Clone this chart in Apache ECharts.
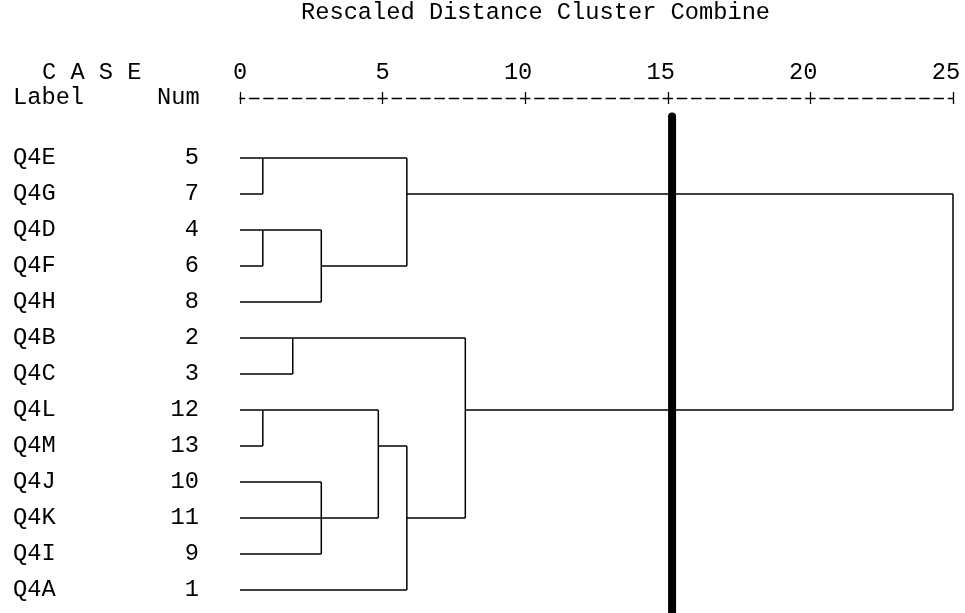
<!DOCTYPE html>
<html>
<head>
<meta charset="utf-8">
<script src="https://cdn.jsdelivr.net/npm/echarts@6/dist/echarts.min.js"></script>
<style>
html,body{margin:0;padding:0;background:#fff;}
#chart{width:965px;height:613px;}
</style>
</head>
<body>
<div id="chart"></div>
<script>
// ---- data ----
const leafLabels = ['Q4E','Q4G','Q4D','Q4F','Q4H','Q4B','Q4C','Q4L','Q4M','Q4J','Q4K','Q4I','Q4A'];
const leafNums = [5, 7, 4, 6, 8, 2, 3, 12, 13, 10, 11, 9, 1];
// merges: node ids (0-12 leaves, 13+ = clusters formed by earlier merges, in order)
const mergeChildren = [[0,1],[2,3],[14,4],[13,15],[5,6],[7,8],[9,10,11],[18,19],[20,12],[17,21],[16,22]];
const mergeDistance = [0.8, 0.8, 2.85, 5.85, 1.85, 0.8, 2.85, 4.85, 5.85, 7.9, 25];
const tickValues = [0, 5, 10, 15, 20, 25];
const cutDistance = 15.15;

// ---- build dendrogram segments from the merge table ----
const nodeRow = leafLabels.map((_, i) => i);
const nodeDist = leafLabels.map(() => 0);
const segments = [];
mergeChildren.forEach((kids, k) => {
  const d = mergeDistance[k];
  const rows = kids.map(c => nodeRow[c]);
  const lo = Math.min(...rows), hi = Math.max(...rows);
  kids.forEach(c => segments.push([nodeDist[c], nodeRow[c], d, nodeRow[c]]));
  segments.push([d, lo, d, hi]);
  nodeRow.push(Math.floor((lo + hi) / 2));
  nodeDist.push(d);
});

const FONT = '"Courier New", "Liberation Mono", monospace';
const FS = 23.7;

const chart = echarts.init(document.getElementById('chart'));
const segRender = (w, cap) => (params, api) => {
  const p1 = api.coord([api.value(0), api.value(1)]);
  const p2 = api.coord([api.value(2), api.value(3)]);
  return {
    type: 'line',
    shape: {x1: p1[0], y1: p1[1], x2: p2[0], y2: p2[1]},
    style: {stroke: '#000', lineWidth: w, lineCap: cap}
  };
};

const xBase = {
  type: 'value', position: 'top', offset: 60, min: 0, max: 25, interval: 5,
  splitLine: {show: false}
};

chart.setOption({
  animation: false,
  backgroundColor: '#fff',
  title: {
    text: 'Rescaled Distance Cluster Combine',
    left: 301, top: 1, padding: 0,
    textStyle: {fontFamily: FONT, fontSize: FS, fontWeight: 'normal', color: '#000'}
  },
  graphic: [
    {type: 'text', x: 42, y: 73, style: {text: 'C A S E', font: FS + 'px ' + FONT, fill: '#000', verticalAlign: 'middle'}},
    {type: 'text', x: 13, y: 98, style: {text: 'Label', font: FS + 'px ' + FONT, fill: '#000', verticalAlign: 'middle'}},
    {type: 'text', x: 157, y: 98, style: {text: 'Num', font: FS + 'px ' + FONT, fill: '#000', verticalAlign: 'middle'}}
  ],
  grid: {left: 240, right: 12, top: 158, bottom: 23, outerBoundsMode: 'none', containLabel: false},
  xAxis: [
    Object.assign({}, xBase, {
      axisLine: {show: true, onZero: false, lineStyle: {color: '#000', width: 1.3, type: [9.5, 4.76], dashOffset: 4.75}},
      axisTick: {show: true, length: 6, lineStyle: {color: '#000', width: 1.3}},
      axisLabel: {
        show: true, margin: 13, color: '#000', fontFamily: FONT, fontSize: FS,
        customValues: tickValues,
        formatter: v => (v >= 10 ? v + ' ' : String(v))
      }
    }),
    Object.assign({}, xBase, {
      axisLine: {show: false, onZero: false},
      axisTick: {show: true, inside: true, length: 6, lineStyle: {color: '#000', width: 1.3}},
      axisLabel: {show: false}
    })
  ],
  yAxis: [
    {
      type: 'value', min: 0, max: leafLabels.length - 1, interval: 1, inverse: true,
      axisLine: {show: false}, axisTick: {show: false}, splitLine: {show: false},
      axisLabel: {align: 'left', margin: 227, color: '#000', fontFamily: FONT, fontSize: FS,
        formatter: v => leafLabels[v] || ''}
    },
    {
      type: 'value', min: 0, max: leafLabels.length - 1, interval: 1, inverse: true, position: 'left',
      axisLine: {show: false}, axisTick: {show: false}, splitLine: {show: false},
      axisLabel: {align: 'right', margin: 41, color: '#000', fontFamily: FONT, fontSize: FS,
        formatter: v => (leafNums[v] !== undefined ? String(leafNums[v]) : '')}
    }
  ],
  series: [
    {
      type: 'custom', name: 'dendrogram', renderItem: segRender(1.5, 'butt'),
      encode: {x: [0, 2], y: [1, 3]}, data: segments, silent: true
    },
    {
      type: 'custom', name: 'cut', renderItem: segRender(8, 'round'), clip: false,
      encode: {x: [0, 2], y: [1, 3]}, data: [[cutDistance, -1.15, cutDistance, 13]], silent: true
    }
  ]
});
</script>
</body>
</html>
